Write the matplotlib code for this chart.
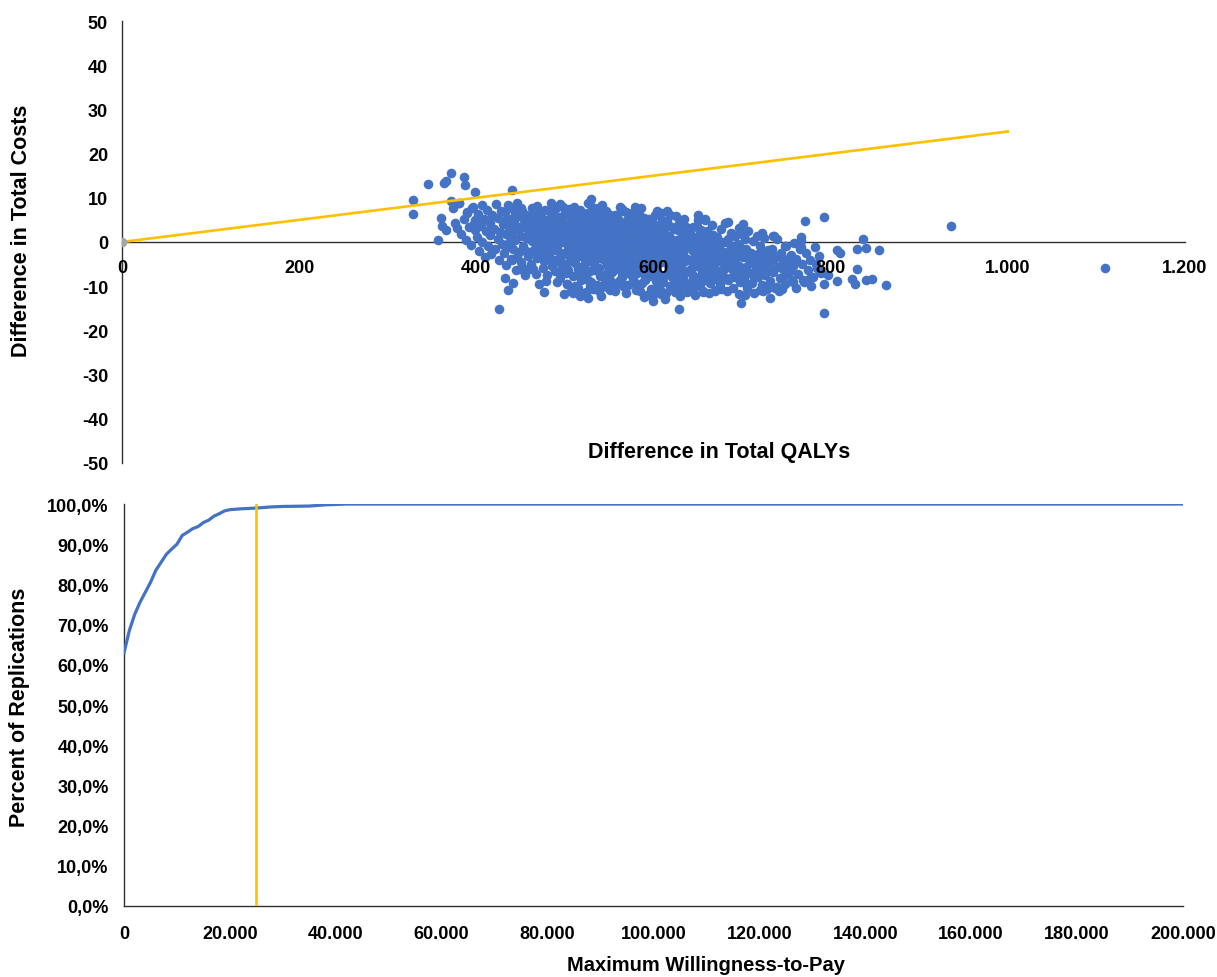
import matplotlib
matplotlib.use("Agg")
import matplotlib.pyplot as plt
from matplotlib.ticker import FuncFormatter

plt.rcParams["font.family"] = ["Liberation Sans", "DejaVu Sans"]
plt.rcParams["font.weight"] = "bold"
plt.rcParams["axes.unicode_minus"] = False

BLUE = "#4472C4"
GOLD = "#FFC000"
GREY = "#A5A5A5"

# ── scatter: (difference in QALYs, difference in costs) ──
left_tail = [
    (328, 9.5), (328, 6.3), (345, 13.1), (363, 13.3), (366, 13.7), (372, 15.5),
    (386, 14.8), (387, 12.8), (398, 11.3), (357, 0.4), (360, 5.5), (361, 3.6),
    (366, 2.7), (372, 9.2), (374, 7.7), (381, 8.9), (376, 4.3), (378, 3.2),
    (389, 6.5), (395, 7.7), (396, 3.9), (440, 11.7),
    (381, 8.9), (383, 1.8), (386, 5.2), (388, 0.5), (390, 6.8), (392, 3.4),
    (394, -0.6), (396, 7.9), (398, 2.6), (399, 4.9),
]
lower_edge = [
    (426, -15.2), (436, -10.9), (442, -9.2), (449, -6.1), (476, -11.4), (502, -9.4),
    (509, -11.5), (517, -12.2), (526, -12.7), (528, -9.9), (529, 9.7), (542, 8.3),
    (562, 8.0), (566, -9.4), (551, -10.9), (538, -10.9), (599, -13.4), (629, -15.2),
    (615, 6.9), (604, 6.9), (579, 8.0), (650, 6.1), (658, 5.0), (684, 4.5),
    (701, 4.0), (722, 2.0), (735, 1.4), (699, -13.9), (703, -12.0), (669, -11.1),
    (656, -11.3), (624, -11.3), (609, -11.7), (720, -10.9), (739, -10.2),
]
right_tail = [
    (793, 5.6), (771, 4.8), (766, 1.2), (736, 1.4), (837, 0.6), (830, -1.6),
    (840, -1.3), (855, -1.8), (807, -1.8), (811, -2.6), (830, -6.1), (807, -8.9),
    (824, -8.3), (827, -9.4), (840, -8.5), (847, -8.3), (863, -9.8), (793, -16.1),
    (793, -9.5), (784, -5.0), (788, -6.7), (797, -7.5), (769, -8.6), (776, -8.3),
    (758, -9.0), (761, -10.5), (746, -7.9), (739, -10.2), (731, -12.7), (767, -1.1),
    (754, -3.3), (746, -4.5), (936, 3.7), (1110, -5.9),
]
core_400_490 = [
    (401, 1.2), (402, 6.4), (403, -2.0), (405, 3.7), (406, 8.3), (407, 0.1), (409, 5.1),
    (410, -3.4), (411, 2.5), (412, 7.2), (413, -0.9), (415, 4.3), (416, 1.6), (417, -2.7),
    (418, 6.0), (420, 3.0), (421, -1.5), (422, 8.6), (424, 0.7), (425, 5.5), (426, -4.1),
    (427, 2.2), (428, 7.0), (429, -0.4), (430, 4.0),
    (431, -2.6), (432, 6.7), (433, 1.9), (434, -5.2), (435, 3.9), (436, 8.4), (437, -0.3),
    (438, 5.3), (439, -3.8), (440, 2.1), (441, 7.5), (442, -1.7), (443, 4.6), (444, 0.4),
    (445, -6.3), (446, 8.9), (447, 2.9), (448, -2.2), (449, 5.9), (450, -4.5), (451, 1.3),
    (452, 7.1), (453, -0.8), (454, 3.5), (455, -7.4), (456, 6.2), (457, 0.9), (458, -3.1),
    (459, 4.8), (460, 2.4), (432, -8.1), (436, -1.1), (440, -4.0), (444, 6.0), (448, 3.3),
    (452, -5.6), (456, -2.0), (434, 4.9), (438, 0.2), (442, 2.8), (446, -3.3), (450, 7.8),
    (454, 5.0), (458, 1.5), (460, -6.2),
    (461, 3.1), (462, -4.9), (463, 7.6), (464, 0.6), (465, -1.9), (466, 5.4), (467, -7.2),
    (468, 2.3), (469, 8.1), (470, -0.5), (471, 4.2), (472, -3.0), (473, 6.5), (474, 1.1),
    (475, -5.8), (476, 3.7), (477, -1.3), (478, 7.3), (479, -8.8), (480, 0.0), (481, 5.0),
    (482, -2.4), (483, 2.8), (484, 8.8), (485, -4.2), (486, 1.7), (487, 6.1), (488, -0.9),
    (489, -6.6), (490, 3.9),
    (461, -2.2), (462, 5.8), (463, 0.3), (464, -6.0), (465, 2.6), (466, -0.2), (467, 4.5),
    (468, -3.6), (469, 1.4), (470, 7.0), (471, -9.6), (472, 3.3), (473, -1.6), (474, 5.2),
    (475, 0.8), (476, -4.4), (477, 2.0), (478, -2.8), (479, 4.7), (480, -7.5), (481, 1.9),
    (482, 6.9), (483, -0.6), (484, -3.9), (485, 3.6), (486, -5.4), (487, 0.5), (488, 4.1),
    (489, -1.8), (490, 7.7),
]
core_490_550 = [
    (491, -1.4), (492, 4.6), (493, -6.9), (494, 1.8), (495, 8.5), (496, -3.2), (497, 2.9),
    (498, -0.1), (499, 6.2), (500, -5.0), (501, 0.9), (502, -9.4), (503, 3.4), (504, -2.0),
    (505, 7.4), (506, -4.3), (507, 1.2), (508, 5.3), (509, -7.8), (510, -0.7), (511, 3.0),
    (512, -3.5), (513, 6.0), (514, 0.4), (515, -10.3), (516, 2.4), (517, -1.9), (518, 4.9),
    (519, -5.7), (520, 1.5),
    (491, 2.7), (492, -3.9), (493, 5.6), (494, -8.2), (495, 0.2), (496, 3.8), (497, -5.4),
    (498, 7.9), (499, -2.6), (500, 1.6), (501, -7.0), (502, 4.0), (503, -0.9), (504, 6.6),
    (505, -3.0), (506, 2.1), (507, -11.0), (508, -1.6), (509, 3.6), (510, 8.0), (511, -4.8),
    (512, 0.6), (513, -2.3), (514, 5.1), (515, -6.1), (516, -0.3), (517, 7.2), (518, -8.6),
    (519, 2.2), (520, -3.4),
    (491, -9.0), (493, 0.7), (495, -4.5), (497, 4.4), (499, -11.8), (501, 6.8), (503, -6.4),
    (505, 1.0), (507, 5.7), (509, -2.9), (511, -9.9), (513, 2.6), (515, 4.5), (517, -6.7),
    (519, -0.8),
    (521, -0.5), (522, 5.9), (523, -7.3), (524, 2.0), (525, -3.0), (526, 8.8), (527, -1.1),
    (528, 3.5), (529, -9.1), (530, 0.8), (531, -4.6), (532, 6.4), (533, -2.1), (534, 1.3),
    (535, -6.0), (536, 4.1), (537, -0.2), (538, -11.2), (539, 2.8), (540, -3.7), (541, 7.1),
    (542, -1.5), (543, 0.3), (544, -8.0), (545, 4.8), (546, -2.6), (547, 1.9), (548, -5.3),
    (549, 6.3), (550, -0.9),
    (521, 3.2), (522, -5.2), (523, 1.1), (524, -2.7), (525, 6.6), (526, -8.7), (527, 2.5),
    (528, -4.1), (529, 0.0), (530, 5.0), (531, -1.8), (532, -10.6), (533, 3.9), (534, -6.4),
    (535, 0.6), (536, -3.3), (537, 7.6), (538, -0.6), (539, -5.8), (540, 2.3), (541, -12.3),
    (542, 4.4), (543, -3.9), (544, 1.6), (545, -1.2), (546, 6.9), (547, -7.1), (548, 0.2),
    (549, -3.5), (550, 3.0),
    (521, -7.9), (522, 0.4), (524, -11.4), (525, -0.4), (527, 4.7), (528, -6.5), (530, -2.4),
    (531, 7.9), (533, -4.8), (534, 3.3), (536, -9.7), (537, 1.5), (539, 5.4), (540, -7.6),
    (542, -2.9), (543, 2.9), (545, -9.3), (546, -4.4), (547, 5.6), (548, -10.1), (549, 1.0),
    (550, -6.3), (523, 4.2), (526, -1.9), (529, -2.2),
]
core_550_610 = [
    (551, -2.0), (552, 4.3), (553, -6.8), (554, 1.7), (555, -0.8), (556, -4.2), (557, 6.2),
    (558, -9.5), (559, 0.1), (560, -2.9), (561, 3.1), (562, -5.5), (563, -1.0), (564, 7.4),
    (565, -7.7), (566, 2.2), (567, -3.6), (568, 0.7), (569, -11.6), (570, 4.9), (571, -1.7),
    (572, -6.1), (573, 1.4), (574, -0.1), (575, 5.6), (576, -4.9), (577, -8.4), (578, 2.6),
    (579, -2.3), (580, 0.3),
    (551, 6.0), (552, -3.1), (553, 0.9), (554, -10.2), (555, 3.7), (556, -1.4), (557, -5.9),
    (558, 2.9), (559, -3.8), (560, 5.2), (561, -8.9), (562, 0.5), (563, -2.6), (564, -0.4),
    (565, 3.4), (566, -6.6), (567, 1.8), (568, -4.4), (569, 6.7), (570, -1.2), (571, -9.8),
    (572, 2.3), (573, -3.4), (574, 4.6), (575, -7.0), (576, 0.8), (577, -1.9), (578, -5.1),
    (579, 3.8), (580, -10.9),
    (551, -8.5), (553, -4.0), (554, 5.0), (556, 2.5), (557, -11.1), (559, -6.2), (560, 1.0),
    (562, -2.1), (563, 6.9), (565, -3.9), (566, -10.0), (568, 4.0), (569, -5.2), (571, 1.1),
    (572, -0.6), (574, -7.3), (575, -2.7), (577, 3.2), (578, -9.1), (580, 5.9), (552, -0.2),
    (558, -1.6), (564, -8.0), (570, -4.7), (576, 6.5),
    (581, -1.0), (582, 4.1), (583, -6.4), (584, 0.6), (585, -3.3), (586, 7.6), (587, -9.2),
    (588, 1.9), (589, -2.4), (590, -0.2), (591, -5.1), (592, 3.0), (593, -11.9), (594, -1.3),
    (595, 5.3), (596, -7.6), (597, 0.4), (598, -3.9), (599, 2.1), (600, -5.8), (601, -0.7),
    (602, 6.1), (603, -8.8), (604, 1.2), (605, -2.8), (606, -10.4), (607, 3.6), (608, -4.5),
    (609, -0.4), (610, 5.0),
    (581, -7.0), (582, -2.6), (583, 2.4), (584, -9.7), (585, 5.8), (586, -0.9), (587, -4.1),
    (588, 3.3), (589, -12.4), (590, 1.5), (591, -2.0), (592, -6.9), (593, 4.6), (594, -3.6),
    (595, 0.0), (596, 2.8), (597, -10.6), (598, -1.6), (599, -6.0), (600, 4.2), (601, -3.1),
    (602, 0.9), (603, -1.9), (604, -7.2), (605, 2.5), (606, -4.7), (607, -0.3), (608, 6.5),
    (609, -8.3), (610, -2.2),
    (581, 3.1), (583, -4.3), (585, -11.2), (587, 1.0), (589, 5.5), (591, -8.6), (593, -1.1),
    (595, -5.4), (597, 4.0), (599, -12.0), (601, 2.7), (603, -6.2), (605, -9.9), (607, -3.0),
    (609, 1.6), (584, -5.6), (590, -7.9), (596, -2.5), (602, -5.0), (608, -11.0),
]
core_610_670 = [
    (611, -3.0), (612, 2.2), (613, -7.4), (614, -0.6), (615, 4.7), (616, -5.2), (617, -1.8),
    (618, 1.3), (619, -10.0), (620, -3.5), (621, 3.4), (622, -6.3), (623, 0.1), (624, -2.5),
    (625, 5.8), (626, -8.5), (627, -0.9), (628, 2.6), (629, -4.6), (630, -12.2), (631, 0.8),
    (632, -2.2), (633, 4.0), (634, -6.8), (635, -1.4), (636, 1.9), (637, -9.4), (638, -3.8),
    (639, 3.0), (640, -0.5),
    (611, -9.1), (612, -4.0), (613, 1.6), (614, -11.6), (615, -2.1), (616, 3.9), (617, -6.0),
    (618, -3.2), (619, 6.2), (620, 0.6), (621, -7.9), (622, -1.2), (623, 2.9), (624, -5.6),
    (625, -9.6), (626, 0.4), (627, -3.3), (628, -7.1), (629, 4.4), (630, -1.7), (631, -5.4),
    (632, 2.0), (633, -8.2), (634, -0.1), (635, 5.1), (636, -4.4), (637, -1.0), (638, -11.3),
    (639, -6.5), (640, 1.1),
    (613, -13.0), (617, -3.9), (621, -1.0), (625, -6.6), (629, -10.6), (633, -2.8), (637, 3.5),
    (615, 0.4), (623, -4.9), (631, -8.6),
    (641, -4.1), (642, 1.5), (643, -7.2), (644, -1.9), (645, 3.3), (646, -10.3), (647, -2.8),
    (648, 0.2), (649, -5.5), (650, 4.9), (651, -8.1), (652, -0.6), (653, -3.6), (654, 2.6),
    (655, -6.3), (656, -11.1), (657, -1.3), (658, 5.2), (659, -4.4), (660, 0.9), (661, -7.7),
    (662, -2.3), (663, 1.9), (664, -9.3), (665, -3.9), (666, 3.9), (667, -5.9), (668, -0.4),
    (669, -10.8), (670, -2.6),
    (641, 2.8), (642, -6.2), (643, -0.2), (644, -8.9), (645, -4.7), (646, 1.0), (647, -12.0),
    (648, -3.1), (649, 3.7), (650, -1.5), (651, -5.0), (652, -9.8), (653, 2.1), (654, -7.4),
    (655, -2.0), (656, 0.6), (657, -6.8), (658, -3.4), (659, -8.6), (660, 2.4), (661, -1.1),
    (662, -5.3), (663, -11.6), (664, 0.0), (665, -2.9), (666, -7.0), (667, 1.6), (668, -4.9),
    (669, -1.6), (670, -8.3),
]
core_670_790 = [
    (671, -3.2), (672, 1.1), (673, -6.5), (674, -1.0), (675, -9.4), (676, 2.9), (677, -4.6),
    (678, -0.1), (679, -7.8), (680, -2.2), (681, 4.2), (682, -5.7), (683, -11.0), (684, 0.6),
    (685, -3.8), (686, -8.2), (687, -1.4), (688, 2.0), (689, -6.1), (690, -10.3), (691, -2.7),
    (692, 1.4), (693, -4.9), (694, -7.2), (695, -0.5), (696, 3.2), (697, -5.4), (698, -9.0),
    (699, -2.0), (700, -6.8),
    (672, -7.9), (674, -4.3), (676, -10.7), (678, -2.9), (680, -6.0), (682, 0.1), (684, -8.7),
    (686, -3.0), (688, -5.2), (690, -0.8), (692, -8.0), (694, -3.5), (696, -11.8), (698, -1.2),
    (700, 1.7),
    (701, -3.4), (702, -8.4), (703, 0.7), (704, -5.6), (705, -1.6), (706, -10.4), (707, 2.4),
    (708, -4.0), (709, -7.0), (710, -2.5), (711, -9.2), (712, 0.2), (713, -5.0), (714, -11.5),
    (715, -3.0), (716, -6.4), (717, 1.3), (718, -8.0), (719, -4.4), (720, -1.0), (721, -6.9),
    (722, -9.8), (723, -2.2), (724, -5.3), (725, 0.9), (726, -7.5), (727, -3.6), (728, -10.6),
    (729, -1.9), (730, -5.9), (704, -9.5), (712, -7.4), (718, -2.8), (724, -11.1), (730, -3.3),
    (731, -4.6), (732, -8.9), (734, -1.5), (735, -6.7), (737, -10.3), (738, -3.2), (740, 0.6),
    (741, -5.7), (743, -8.1), (744, -2.4), (746, -6.2), (747, -4.0), (749, -9.6), (750, -1.0),
    (752, -7.1), (753, -4.9), (755, -2.9), (756, -8.6), (758, -5.5), (759, -0.3), (742, -11.0),
    (748, -0.9), (754, -6.6), (736, -3.9), (745, -10.7),
    (761, -3.8), (763, -7.2), (765, -1.6), (768, -5.0), (770, -9.0), (772, -2.6), (775, -6.3),
    (777, -4.1), (780, -8.0), (782, -1.2), (785, -5.8), (787, -3.2), (789, -7.0), (766, 0.3),
    (778, -10.0),
]

# threshold line (25 per 1000 QALYs) and origin point
thr_qaly = [0, 1000]
thr_cost = [0, 25]

# ── acceptability curve ──
wtp = [0, 1000, 2000, 3000, 4000, 5000, 6000, 7000, 8000, 9000, 10000, 11000, 12000,
       13000, 14000, 15000, 16000, 17000, 18000, 19000, 20000, 22000, 25000, 28000,
       30000, 35000, 38000, 40000, 42000, 200000]
pct = [0.630, 0.685, 0.725, 0.755, 0.780, 0.805, 0.835, 0.855, 0.875, 0.888, 0.900,
       0.922, 0.930, 0.939, 0.944, 0.954, 0.960, 0.970, 0.976, 0.983, 0.986, 0.988,
       0.990, 0.993, 0.994, 0.995, 0.998, 0.999, 1.000, 1.000]
wtp_threshold = 25000


def dots(num, dec=0):
    s = f"{num:,.{dec}f}"
    return s.replace(",", "X").replace(".", ",").replace("X", ".")


fig = plt.figure(figsize=(12.17, 9.78), dpi=100)
ax1 = fig.add_axes([0.1002, 0.5256, 0.8735, 0.4519])
ax2 = fig.add_axes([0.1019, 0.0726, 0.8701, 0.411])

pts = (left_tail + lower_edge + right_tail + core_400_490 + core_490_550
       + core_550_610 + core_610_670 + core_670_790)
qx = [p[0] for p in pts]
qy = [p[1] for p in pts]
ax1.scatter(qx, qy, s=48, color=BLUE, linewidths=0, zorder=3)
ax1.plot(thr_qaly, thr_cost, color=GOLD, lw=1.9, zorder=4)
ax1.scatter([0], [0], s=48, color=GREY, linewidths=0, zorder=5)

ax1.set_xlim(0, 1200)
ax1.set_ylim(-50, 50)
ax1.set_xticks(range(0, 1201, 200))
ax1.set_yticks(range(-50, 51, 10))
ax1.xaxis.set_major_formatter(FuncFormatter(lambda v, p: dots(v)))
ax1.xaxis.set_zorder(6)
for s in ("top", "right"):
    ax1.spines[s].set_visible(False)
ax1.spines["bottom"].set_position(("data", 0))
for s in ("left", "bottom"):
    ax1.spines[s].set_color("#303030")
    ax1.spines[s].set_linewidth(1.0)
ax1.tick_params(axis="x", length=0, pad=12, labelsize=13)
ax1.tick_params(axis="y", length=0, pad=10, labelsize=13)
ax1.text(0.562, 0.027, "Difference in Total QALYs", transform=ax1.transAxes,
         ha="center", va="center", fontsize=15.5, fontweight="bold", zorder=7)

ax2.plot(wtp, pct, color=BLUE, lw=2.3, zorder=3)
ax2.axvline(wtp_threshold, color=GOLD, lw=1.9, zorder=4)
ax2.set_xlim(0, 200000)
ax2.set_ylim(0, 1.0)
ax2.set_xticks(range(0, 200001, 20000))
ax2.set_yticks([i / 10 for i in range(11)])
ax2.xaxis.set_major_formatter(FuncFormatter(lambda v, p: dots(v)))
ax2.yaxis.set_major_formatter(FuncFormatter(lambda v, p: dots(v * 100, 1) + "%"))
for s in ("top", "right"):
    ax2.spines[s].set_visible(False)
for s in ("left", "bottom"):
    ax2.spines[s].set_color("#303030")
    ax2.spines[s].set_linewidth(1.0)
ax2.tick_params(axis="x", length=0, pad=14, labelsize=13)
ax2.tick_params(axis="y", length=0, pad=11, labelsize=13)

fig.text(22 / 1217, 1 - 231 / 978, "Difference in Total Costs", rotation=90,
         ha="center", va="center", fontsize=15.5, fontweight="bold")
fig.text(20 / 1217, 1 - 707 / 978, "Percent of Replications", rotation=90,
         ha="center", va="center", fontsize=15.5, fontweight="bold")
fig.text(706 / 1217, 1 - 966 / 978, "Maximum Willingness-to-Pay",
         ha="center", va="center", fontsize=14.5, fontweight="bold")

fig.savefig("out.png", dpi=100)
